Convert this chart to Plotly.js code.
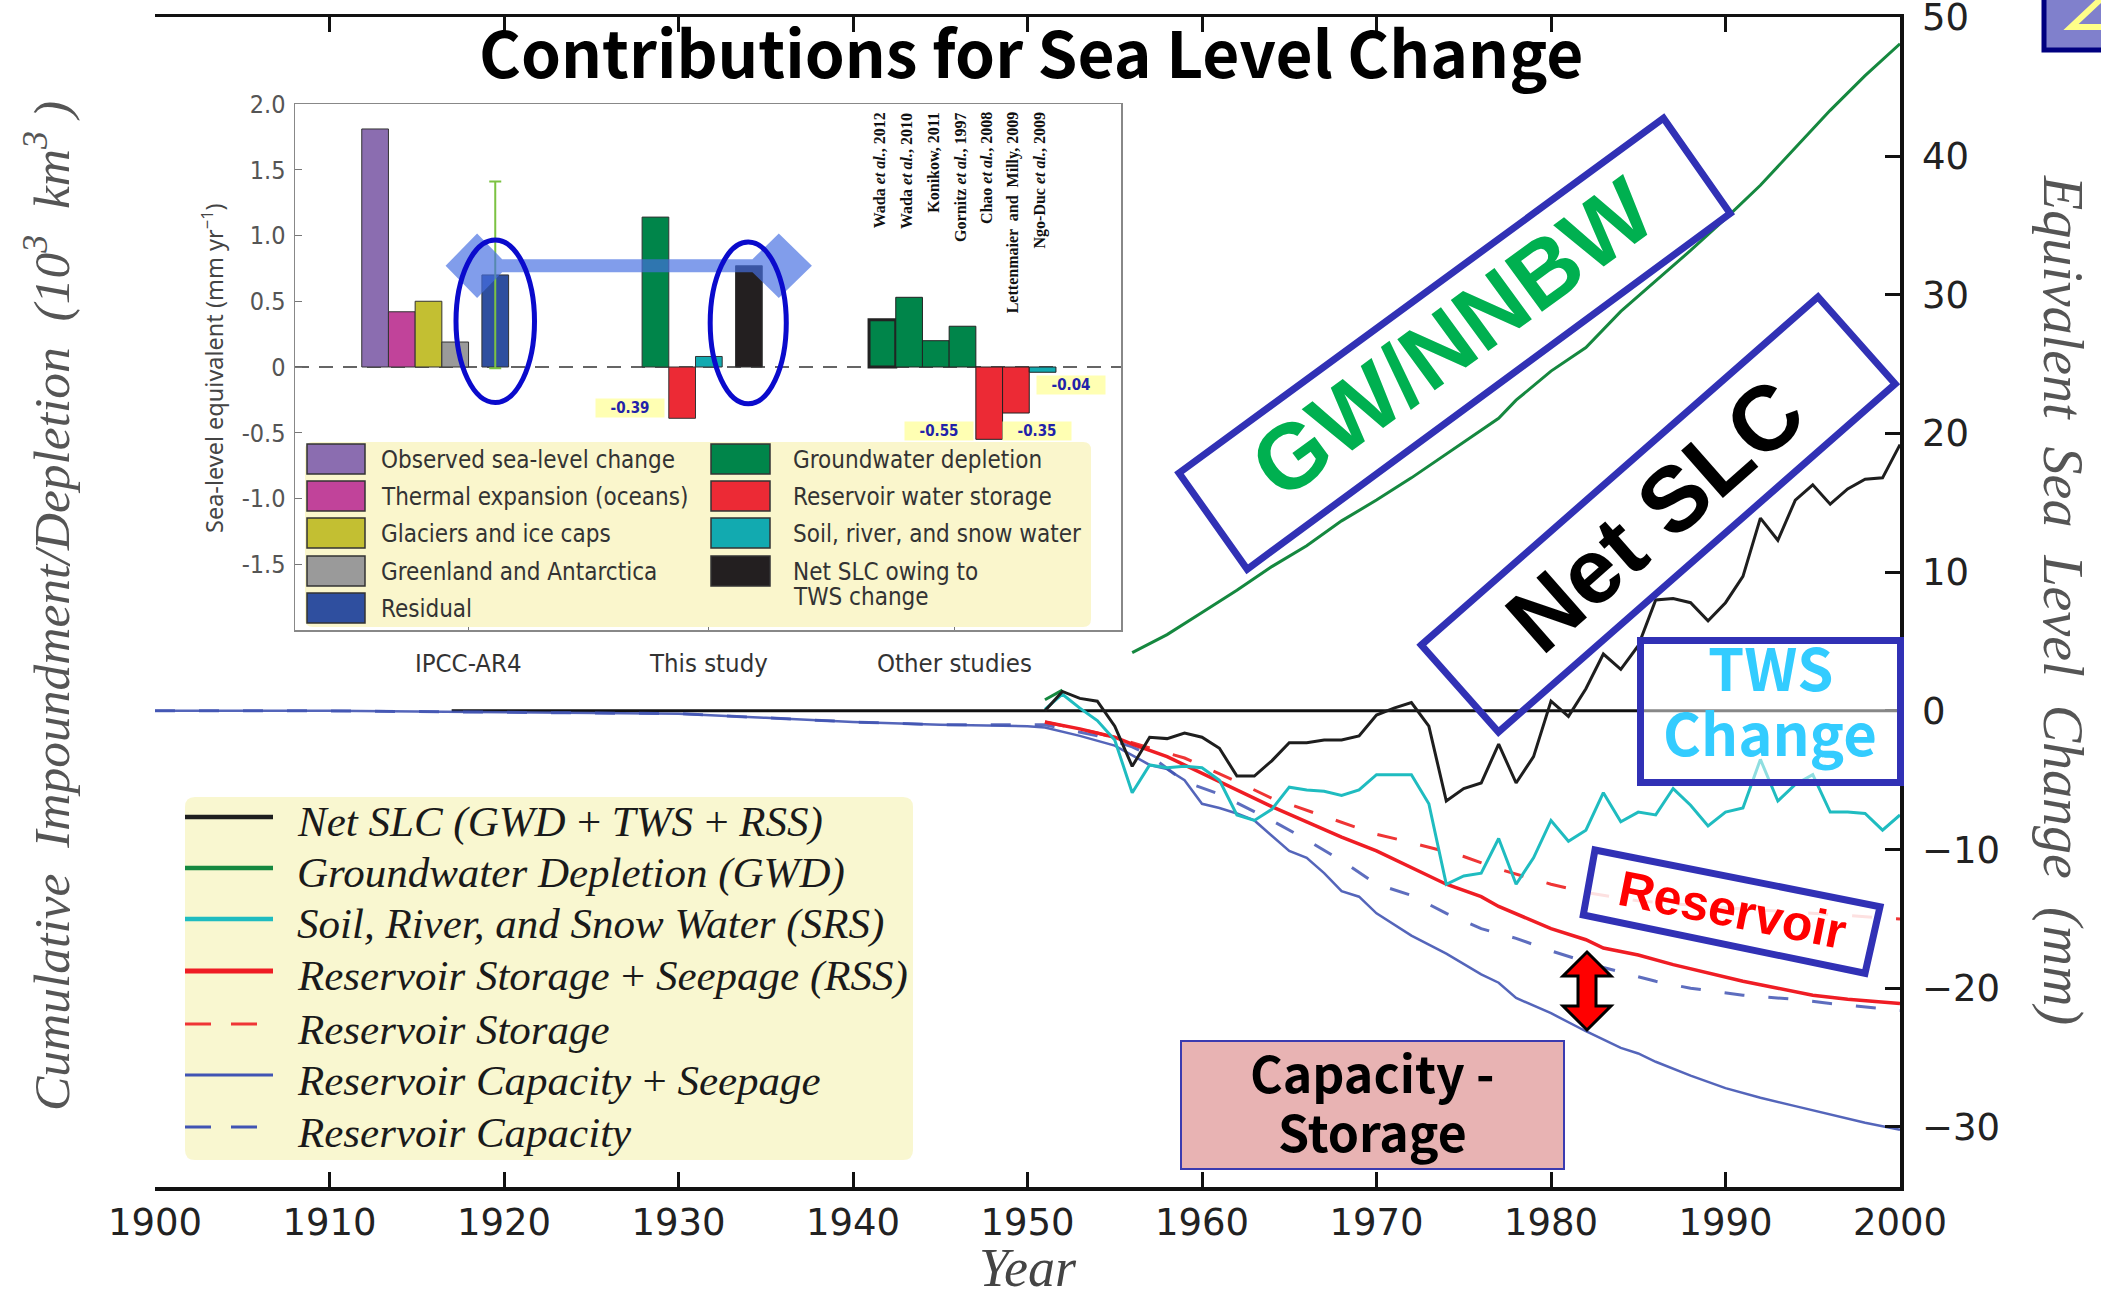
<!DOCTYPE html>
<html>
<head>
<meta charset="utf-8">
<script src="https://cdn.plot.ly/plotly-3.0.1.min.js"></script>
<style>
  html, body { margin: 0; padding: 0; background: #ffffff; }
  #chart { width: 2101px; height: 1297px; }
</style>
</head>
<body>
<div id="chart"></div>
<script>
// ---------------------------------------------------------------------------
// Cumulative series, expressed as equivalent sea level change (mm)
// ---------------------------------------------------------------------------
const annualYears = [1951,1952,1953,1954,1955,1956,1957,1958,1959,1960,
  1961,1962,1963,1964,1965,1966,1967,1968,1969,1970,
  1971,1972,1973,1974,1975,1976,1977,1978,1979,1980,
  1981,1982,1983,1984,1985,1986,1987,1988,1989,1990,
  1991,1992,1993,1994,1995,1996,1997,1998,1999,2000];

// Net SLC (GWD + TWS + RSS)
const netSLC = [0.0,1.4,0.9,0.7,-1.1,-4.0,-1.9,-2.0,-1.6,-1.9,
  -2.7,-4.7,-4.7,-3.6,-2.3,-2.3,-2.1,-2.1,-1.8,-0.3,
  0.2,0.6,-1.1,-6.5,-5.6,-5.2,-2.4,-5.2,-3.3,0.7,
  -0.4,1.6,4.1,3.0,4.7,8.0,8.1,7.8,6.5,7.8,
  9.7,13.9,12.3,15.2,16.3,14.9,16.0,16.7,16.8,19.2];

// Soil, river and snow water (SRS)
const soilRiverSnow = [0.1,1.2,0.2,-0.7,-2.1,-5.9,-3.9,-4.1,-4.0,-4.1,
  -5.0,-7.5,-7.9,-7.1,-5.5,-5.7,-5.8,-6.1,-5.7,-4.6,
  -4.6,-4.6,-6.7,-12.5,-11.9,-11.7,-9.2,-12.5,-10.6,-7.9,
  -9.4,-8.6,-5.9,-8.0,-7.3,-7.5,-5.6,-6.8,-8.3,-7.3,
  -7.0,-3.5,-6.5,-5.3,-4.6,-7.3,-7.3,-7.4,-8.6,-7.5];

// Groundwater depletion (GWD); 1953-1955 lies under the inset panel
const gwdYears  = [1951,1952,1953,1956,1958,1960,1962,1964,1966,1968,1970,1972,1974,1976,1977,1978,1980,1982,1984,1986,1988,1990,1992,1994,1996,1998,2000];
const gwdValues = [0.8,1.5,null,4.2,5.5,7.1,8.7,10.4,11.9,13.7,15.2,16.8,18.5,20.2,21.1,22.4,24.5,26.2,28.8,31.0,33.2,35.5,37.9,40.6,43.3,45.8,48.1];

// Reservoir storage + seepage (RSS)
const rssYears  = [1951,1953,1955,1956,1958,1960,1962,1964,1966,1968,1970,1972,1974,1976,1977,1980,1982,1983,1985,1987,1989,1991,1993,1995,1997,2000];
const rssValues = [-0.8,-1.3,-1.9,-2.4,-3.3,-4.5,-5.7,-6.9,-8.0,-9.1,-10.1,-11.3,-12.5,-13.4,-14.1,-15.7,-16.5,-17.1,-17.6,-18.3,-18.9,-19.5,-20.0,-20.5,-20.8,-21.1];

// Reservoir storage
const storageYears  = [1951,1954,1956,1959,1962,1964,1967,1970,1972,1975,1977,1980,1982,1985,1990,1995,1998,2000];
const storageValues = [-0.8,-1.6,-2.3,-3.4,-5.1,-6.3,-7.6,-8.9,-9.5,-10.5,-11.4,-12.5,-13.1,-13.7,-14.2,-14.6,-14.8,-15.0];

// Reservoir capacity + seepage
const capSeepYears  = [1900,1910,1920,1930,1935,1940,1945,1950,1951,1953,1955,1956,1957,1958,1959,1960,1961,1962,1963,1964,1965,1966,1967,1968,1969,1970,1971,1972,1974,1976,1977,1978,1980,1982,1984,1985,1986,1988,1990,1992,1994,1996,1998,2000];
const capSeepValues = [0.0,0.0,-0.1,-0.2,-0.5,-0.8,-1.0,-1.1,-1.2,-1.8,-2.5,-3.2,-3.9,-4.2,-5.0,-6.7,-7.0,-7.4,-7.9,-9.0,-10.1,-10.6,-11.7,-13.0,-13.4,-14.6,-15.4,-16.2,-17.5,-19.0,-19.6,-20.7,-21.8,-23.1,-24.3,-24.7,-25.3,-26.3,-27.2,-27.9,-28.5,-29.1,-29.7,-30.2];

// Reservoir capacity
const capYears  = [1900,1910,1920,1930,1935,1940,1945,1950,1951,1954,1956,1957,1959,1961,1964,1966,1968,1970,1972,1974,1976,1978,1980,1983,1986,1988,1991,1994,1996,2000];
const capValues = [0.0,0.0,-0.1,-0.2,-0.5,-0.8,-1.0,-1.0,-1.0,-1.8,-2.6,-3.2,-5.1,-6.0,-7.9,-9.3,-10.8,-12.5,-13.3,-14.6,-15.7,-16.4,-17.3,-18.5,-19.5,-20.0,-20.5,-20.8,-21.1,-21.6];

const seriesNames = [
  'Net SLC (GWD\u2009+\u2009TWS\u2009+\u2009RSS)',
  'Groundwater Depletion (GWD)',
  'Soil, River, and Snow Water (SRS)',
  'Reservoir Storage\u2009+\u2009Seepage (RSS)',
  'Reservoir Storage',
  'Reservoir Capacity\u2009+\u2009Seepage',
  'Reservoir Capacity'
];

// Axis tick values
const yearTicks = [1900,1910,1920,1930,1940,1950,1960,1970,1980,1990,2000];
const volumeTicks = [-10,-5,0,5,10,15];          // 10^3 km^3
const volumeTickText = ['10','5','0','5','10','15'];
const mmTicks = [-30,-20,-10,0,10,20,30,40,50];  // mm

// ---------------------------------------------------------------------------
// Inset: rates of sea-level contribution (mm per year)
// ---------------------------------------------------------------------------
const insetGroups = ['IPCC-AR4','This study','Other studies'];
const ipccLabels = ['Observed sea-level change','Thermal expansion (oceans)','Glaciers and ice caps','Greenland and Antarctica','Residual'];
const ipccValues = [1.81, 0.42, 0.50, 0.19, 0.70];
const residualUncertainty = 0.71;
const studyLabels = ['Groundwater depletion','Reservoir water storage','Soil, river, and snow water','Net SLC owing to','TWS change'];
const studyValues = [1.14, -0.39, 0.08, 0.77];
const otherStudies = ['Wada <i>et al.</i>, 2012','Wada <i>et al.</i>, 2010','Konikow, 2011','Gornitz <i>et al.</i>, 1997','Chao <i>et al.</i>, 2008','Lettenmaier  and  Milly, 2009','Ngo-Duc <i>et al.</i>, 2009'];
const otherKinds  = ['gwd','gwd','gwd','gwd','res','res','soil'];
const otherValues = [0.36, 0.53, 0.20, 0.31, -0.55, -0.35, -0.04];
const insetTicks = ['-1.5','-1.0','-0.5','0','0.5','1.0','1.5','2.0'];

// ---------------------------------------------------------------------------
// Geometry helpers (pixel -> paper coordinates of the main plot area)
// ---------------------------------------------------------------------------
const FIG_W = 2101, FIG_H = 1297;
const L = 155, T = 17, W = 1745, H = 1170;
const px = X => (X - L) / W;
const py = Y => 1 - (Y - T) / H;
const q = (X, Y) => px(X) + ',' + py(Y);
const poly = pts => pts.map((p, i) => (i ? 'L' : 'M') + q(p[0], p[1])).join(' ') + ' Z';
const roundRect = (x0, y0, x1, y1, r) =>
  `M${q(x0 + r, y0)} L${q(x1 - r, y0)} Q${q(x1, y0)} ${q(x1, y0 + r)} L${q(x1, y1 - r)} ` +
  `Q${q(x1, y1)} ${q(x1 - r, y1)} L${q(x0 + r, y1)} Q${q(x0, y1)} ${q(x0, y1 - r)} ` +
  `L${q(x0, y0 + r)} Q${q(x0, y0)} ${q(x0 + r, y0)} Z`;

const NARROW = 'Liberation Sans Narrow, DejaVu Sans Condensed, Arial Narrow, sans-serif';
const TICKS  = 'DejaVu Sans, Verdana, sans-serif';
const SERIF  = 'Liberation Serif, DejaVu Serif, serif';
const BOLDSANS = 'Liberation Sans, Arial, sans-serif';
const JPSANS = 'Noto Sans CJK JP, Noto Sans, sans-serif';

const C = {
  net: '#1e1e1e', gwd: '#15883f', srs: '#1fbcc0', rss: '#ef1d24',
  storage: '#ef3535', cap: '#4154b3',
  obs: '#8b6db0', thermal: '#c1439a', glacier: '#c3bf32', greenland: '#9a9a9a', residual: '#2f4f9f',
  gwBar: '#00854a', resBar: '#ec2a35', soilBar: '#12aab0', netBar: '#231f20'
};
const kindColor = { gwd: C.gwBar, res: C.resBar, soil: C.soilBar };

// ---------------------------------------------------------------------------
// Traces
// ---------------------------------------------------------------------------
const traces = [];
const lineTrace = (x, y, color, width, dash, opacity) => ({
  type: 'scatter', mode: 'lines', x, y, xaxis: 'x', yaxis: 'y2',
  line: { color, width, dash: dash || 'solid' }, opacity: opacity || 1,
  connectgaps: false, hoverinfo: 'skip', showlegend: false
});
traces.push(lineTrace(capYears, capValues, C.cap, 3, '20px,24px', 0.85));
traces.push(lineTrace(capSeepYears, capSeepValues, C.cap, 2.5, null, 0.9));
traces.push(lineTrace(storageYears, storageValues, C.storage, 3, '20px,24px'));
traces.push(lineTrace(rssYears, rssValues, C.rss, 3.5));
traces.push(lineTrace(annualYears, soilRiverSnow, C.srs, 3));
traces.push(lineTrace(gwdYears, gwdValues, C.gwd, 3));
traces.push(lineTrace(annualYears, netSLC, C.net, 3));

// Inset bar positions (in bar-width units)
const ipccX  = ipccValues.map((v, i) => 3 + i + (i === ipccValues.length - 1 ? 0.5 : 0));
const studyX = studyValues.map((v, i) => 13.5 + i + (i === studyValues.length - 1 ? 0.5 : 0));
const otherX = otherValues.map((v, i) => 22 + i);
const insetRange = [0, 826 / 26.7];

const barBase = { type: 'bar', xaxis: 'x2', yaxis: 'y3', width: 1, hoverinfo: 'skip', showlegend: false };
traces.push(Object.assign({}, barBase, {
  x: ipccX.slice(0, 4), y: ipccValues.slice(0, 4),
  marker: { color: [C.obs, C.thermal, C.glacier, C.greenland], line: { color: '#333', width: 1 } }
}));
traces.push(Object.assign({}, barBase, {
  x: [ipccX[4]], y: [ipccValues[4]],
  marker: { color: C.residual, line: { color: '#333', width: 1 } },
  error_y: { type: 'data', symmetric: true, array: [residualUncertainty], color: '#7cc242', thickness: 2, width: 6 }
}));
traces.push(Object.assign({}, barBase, {
  x: studyX, y: studyValues,
  marker: { color: [C.gwBar, C.resBar, C.soilBar, C.netBar], line: { color: '#333', width: 1 } }
}));
traces.push(Object.assign({}, barBase, {
  x: otherX, y: otherValues,
  marker: { color: otherKinds.map(k => kindColor[k]),
            line: { color: '#222', width: otherValues.map((v, i) => i === 0 ? 3 : 1) } }
}));

// ---------------------------------------------------------------------------
// Shapes
// ---------------------------------------------------------------------------
const shapes = [];
const paperShape = o => Object.assign({ xref: 'paper', yref: 'paper' }, o);

// zero reference of the main panel
shapes.push({ type: 'line', xref: 'x', yref: 'y2', x0: 1917, x1: 2000, y0: 0, y1: 0,
  line: { color: '#111', width: 3 }, layer: 'below' });

// inset zero line
shapes.push({ type: 'line', xref: 'x2', yref: 'y3', x0: insetRange[0], x1: insetRange[1], y0: 0, y1: 0,
  line: { color: '#333', width: 1.5, dash: '14px,10px' }, layer: 'below' });

// highlight band linking the residual and the net TWS contribution
(function () {
  const yc = studyValues[3], hb = 0.05, hh = 0.245;
  const lc = 6.82, rc = 18.12, lw = 1.18, rw = 1.24;
  const li = lc + lw * (1 - hb / hh), ri = rc - rw * (1 - hb / hh);
  const pts = [[lc - lw, yc], [lc, yc + hh], [li, yc + hb], [ri, yc + hb], [rc, yc + hh], [rc + rw, yc],
               [rc, yc - hh], [ri, yc - hb], [li, yc - hb], [lc, yc - hh]];
  shapes.push({ type: 'path', xref: 'x2', yref: 'y3', layer: 'above',
    path: pts.map((p, i) => (i ? 'L' : 'M') + p[0] + ',' + p[1]).join(' ') + ' Z',
    fillcolor: 'rgba(70,110,225,0.68)', line: { width: 0 } });
})();

// ellipses around the two compared bars
shapes.push({ type: 'circle', xref: 'x2', yref: 'y3', layer: 'above',
  x0: ipccX[4] - 1.47, x1: ipccX[4] + 1.47, y0: -0.27, y1: 0.965, line: { color: '#0a0acc', width: 5 } });
shapes.push({ type: 'circle', xref: 'x2', yref: 'y3', layer: 'above',
  x0: studyX[3] - 1.45, x1: studyX[3] + 1.4, y0: -0.28, y1: 0.95, line: { color: '#0a0acc', width: 5 } });

// inset legend
shapes.push(paperShape({ type: 'path', path: roundRect(305, 442, 1091, 627, 8), fillcolor: '#faf6cc', line: { width: 0 }, layer: 'above' }));
const insetRows = [459, 496, 533, 571, 608];
const col1Colors = [C.obs, C.thermal, C.glacier, C.greenland, C.residual];
const col2Colors = [C.gwBar, C.resBar, C.soilBar, C.netBar];
col1Colors.forEach((c, i) => shapes.push(paperShape({ type: 'rect', layer: 'above',
  x0: px(307), x1: px(365), y0: py(insetRows[i] - 15), y1: py(insetRows[i] + 15), fillcolor: c, line: { color: '#333', width: 1.5 } })));
col2Colors.forEach((c, i) => shapes.push(paperShape({ type: 'rect', layer: 'above',
  x0: px(711), x1: px(770), y0: py(insetRows[i] - 15), y1: py(insetRows[i] + 15), fillcolor: c, line: { color: '#333', width: 1.5 } })));

// main legend
shapes.push(paperShape({ type: 'path', path: roundRect(185, 797, 913, 1160, 10), fillcolor: '#f9f7d0', line: { width: 0 }, layer: 'above' }));
const legRows = [817, 868, 919, 971, 1024, 1075, 1127];
const legStyle = [
  { c: C.net, w: 4.5 }, { c: C.gwd, w: 4.5 }, { c: C.srs, w: 4.5 }, { c: C.rss, w: 5 },
  { c: C.storage, w: 3, d: '26px,20px' }, { c: C.cap, w: 3 }, { c: C.cap, w: 3, d: '26px,20px' }
];
legStyle.forEach((s, i) => shapes.push(paperShape({ type: 'line', layer: 'above',
  x0: px(185), x1: px(s.d ? 259 : 273), y0: py(legRows[i]), y1: py(legRows[i]),
  line: { color: s.c, width: s.w, dash: s.d || 'solid' } })));

// annotation boxes
const boxLine = { color: '#3131b5', width: 7 };
shapes.push(paperShape({ type: 'path', layer: 'above', line: boxLine, fillcolor: 'rgba(0,0,0,0)',
  path: poly([[1179, 473], [1663.5, 118.3], [1730.2, 213.4], [1247.2, 569.2]]) }));
shapes.push(paperShape({ type: 'path', layer: 'above', line: boxLine, fillcolor: 'rgba(0,0,0,0)',
  path: poly([[1421.3, 645], [1818, 296.9], [1895.2, 383.9], [1498.5, 732]]) }));
shapes.push(paperShape({ type: 'path', layer: 'above', line: boxLine, fillcolor: 'rgba(255,255,255,0.85)',
  path: poly([[1595, 850], [1880, 906.7], [1865, 973.3], [1583.3, 915]]) }));
shapes.push(paperShape({ type: 'rect', layer: 'above', line: boxLine, fillcolor: 'rgba(255,255,255,0.5)',
  x0: px(1640.5), x1: px(1900.5), y0: py(640.5), y1: py(782.5) }));
shapes.push(paperShape({ type: 'rect', layer: 'above', line: { color: '#3b3bb0', width: 2 }, fillcolor: '#e8b3b3',
  x0: px(1181), x1: px(1564), y0: py(1041), y1: py(1169) }));

// double-headed arrow between capacity and storage
(function () {
  const cx = 1587, top = 952, bot = 1030, hw = 24, hh = 24, sw = 9;
  shapes.push(paperShape({ type: 'path', layer: 'above', fillcolor: '#ff0000', line: { color: '#000', width: 3 },
    path: poly([[cx, top], [cx + hw, top + hh], [cx + sw, top + hh], [cx + sw, bot - hh], [cx + hw, bot - hh], [cx, bot],
                [cx - hw, bot - hh], [cx - sw, bot - hh], [cx - sw, top + hh], [cx - hw, top + hh]]) }));
})();

// corner badge
shapes.push(paperShape({ type: 'rect', layer: 'above', fillcolor: '#8080cc', line: { color: '#000080', width: 5 },
  x0: px(2044), x1: px(2115), y0: py(-10), y1: py(50) }));
shapes.push(paperShape({ type: 'path', layer: 'above', line: { color: '#ffff88', width: 6 },
  path: `M${q(2103, -3)} L${q(2071, 27)} L${q(2103, 27)}` }));

// ---------------------------------------------------------------------------
// Annotations
// ---------------------------------------------------------------------------
const ann = [];
const txt = (X, Y, text, font, extra) => ann.push(Object.assign({
  xref: 'paper', yref: 'paper', x: px(X), y: py(Y), text, showarrow: false,
  xanchor: 'center', yanchor: 'middle', font }, extra || {}));

// titles
txt(1031, 50, 'Contributions for Sea Level Change', { family: JPSANS, size: 64, color: '#000', weight: 'bold' });
txt(47, 606, 'Cumulative  Impoundment/Depletion  (10<sup>3</sup>  km<sup>3</sup> )', { family: SERIF, size: 51.5, color: '#555', style: 'italic' }, { textangle: -90 });
txt(2063, 600, 'Equivalent  Sea  Level  Change  (mm)', { family: SERIF, size: 56, color: '#555', style: 'italic' }, { textangle: 90 });
txt(1028, 1268, 'Year', { family: SERIF, size: 54, color: '#444', style: 'italic' });

// inset group labels
const groupTickX = [6.5, 15.5, 24.7];
insetGroups.forEach((g, i) => ann.push({ xref: 'x2', yref: 'paper', x: groupTickX[i], y: py(663), text: g,
  showarrow: false, xanchor: 'center', yanchor: 'middle', font: { family: NARROW, size: 25.5, color: '#333' } }));

// inset y title
txt(212, 368, 'Sea-level equivalent (mm yr<sup>−1</sup>)', { family: 'Noto Sans, DejaVu Sans, sans-serif', size: 23.5, color: '#444' }, { textangle: -90 });

// citation labels above the other-studies bars
otherStudies.forEach((s, i) => ann.push({ xref: 'x2', yref: 'y3', x: otherX[i] - 0.1, y: 1.95, text: s,
  textangle: -90, showarrow: false, xanchor: 'center', yanchor: 'top',
  font: { family: SERIF, size: 16, color: '#111', weight: 'bold' } }));

// value labels on the negative bars
const valueLabel = (x, y, v) => ann.push({ xref: 'x2', yref: 'y3', x, y, text: v.toFixed(2), showarrow: false,
  xanchor: 'center', yanchor: 'middle', bgcolor: '#ffffb3', width: 64, height: 14, borderpad: 2,
  font: { family: NARROW, size: 15, color: '#2222aa', weight: 'bold' } });
valueLabel(studyX[1] - 1.97, studyValues[1] + 0.08, studyValues[1]);
valueLabel(otherX[4] - 1.88, otherValues[4] + 0.06, otherValues[4]);
valueLabel(otherX[5] + 0.8, otherValues[4] + 0.06, otherValues[5]);
valueLabel(otherX[6] + 1.08, otherValues[6] - 0.1, otherValues[6]);

// inset legend labels
const insetFont = { family: NARROW, size: 24, color: '#333' };
ipccLabels.forEach((s, i) => txt(379, insetRows[i] + 1, s, insetFont, { xanchor: 'left' }));
studyLabels.forEach((s, i) => txt(791, (i < 4 ? insetRows[i] : insetRows[3] + 25) + 1, s, insetFont, { xanchor: 'left' }));

// main legend labels
seriesNames.forEach((s, i) => txt(295, legRows[i] + 5, s, { family: SERIF, size: 43, color: '#1a1a1a', style: 'italic' }, { xanchor: 'left' }));

// callouts
txt(1452, 338, 'GW/NNBW', { family: BOLDSANS, size: 92, color: '#00b050', weight: 'bold' }, { textangle: -36.2 });
txt(1655, 515, 'Net SLC', { family: BOLDSANS, size: 92, color: '#000', weight: 'bold' }, { textangle: -41.3 });
txt(1732, 910, 'Reservoir', { family: BOLDSANS, size: 50, color: '#ff0000', weight: 'bold' }, { textangle: 11.3 });
txt(1770, 666, 'TWS', { family: JPSANS, size: 58, color: '#33ccff', weight: 'bold' });
txt(1770, 731, 'Change', { family: JPSANS, size: 58, color: '#33ccff', weight: 'bold' });
txt(1372, 1071, 'Capacity -', { family: JPSANS, size: 50, color: '#000', weight: 'bold' });
txt(1372, 1130, 'Storage', { family: JPSANS, size: 50, color: '#000', weight: 'bold' });

// ---------------------------------------------------------------------------
// Layout
// ---------------------------------------------------------------------------
const tickFont = { family: TICKS, size: 37, color: '#222' };
const layout = {
  width: FIG_W, height: FIG_H,
  margin: { l: L, r: FIG_W - L - W, t: T, b: FIG_H - T - H, pad: 0 },
  paper_bgcolor: '#ffffff', plot_bgcolor: 'rgba(0,0,0,0)',
  showlegend: false, hovermode: false,
  xaxis: {
    domain: [0, 1], range: [1900, 2000], tickvals: yearTicks, ticks: 'inside', ticklen: 15, tickwidth: 3,
    tickcolor: '#111', showline: true, linewidth: 3.5, linecolor: '#111', mirror: 'ticks',
    showgrid: false, zeroline: false, tickfont: tickFont, ticklabelstandoff: 0, anchor: 'y',
    ticklabeloverflow: 'allow'
  },
  yaxis: {
    domain: [0, 1], range: [-12.43, 18.12], tickvals: volumeTicks, ticktext: volumeTickText,
    ticks: 'inside', ticklen: 15, tickwidth: 3, tickcolor: '#111', showline: true, linewidth: 3.5, linecolor: '#111',
    showgrid: false, zeroline: false, tickfont: tickFont, ticklabelstandoff: 4, anchor: 'x',
    ticklabeloverflow: 'allow'
  },
  yaxis2: {
    overlaying: 'y', side: 'right', anchor: 'x', range: [-34.33, 50.03], tickvals: mmTicks,
    ticks: 'inside', ticklen: 15, tickwidth: 3, tickcolor: '#111', showline: true, linewidth: 3.5, linecolor: '#111',
    showgrid: false, zeroline: false, tickfont: tickFont, ticklabelstandoff: 11,
    ticklabeloverflow: 'allow'
  },
  xaxis2: {
    domain: [px(295), px(1121)], anchor: 'y3', range: insetRange, tickvals: groupTickX,
    showticklabels: false, ticks: 'inside', ticklen: 8, tickwidth: 1, tickcolor: '#777',
    showline: true, mirror: true, linewidth: 1.5, linecolor: '#888', showgrid: false, zeroline: false
  },
  yaxis3: {
    domain: [py(630), py(104)], anchor: 'x2', range: [-2, 2],
    tickvals: insetTicks.map(Number), ticktext: insetTicks,
    ticks: 'inside', ticklen: 7, tickwidth: 1, tickcolor: '#777', tickfont: { family: NARROW, size: 25, color: '#555' },
    showline: true, mirror: true, linewidth: 1.5, linecolor: '#888', showgrid: false, zeroline: false, ticklabelstandoff: 3
  },
  bargap: 0,
  shapes, annotations: ann
};

Plotly.newPlot('chart', traces, layout, { displayModeBar: false, staticPlot: true });
</script>
</body>
</html>
